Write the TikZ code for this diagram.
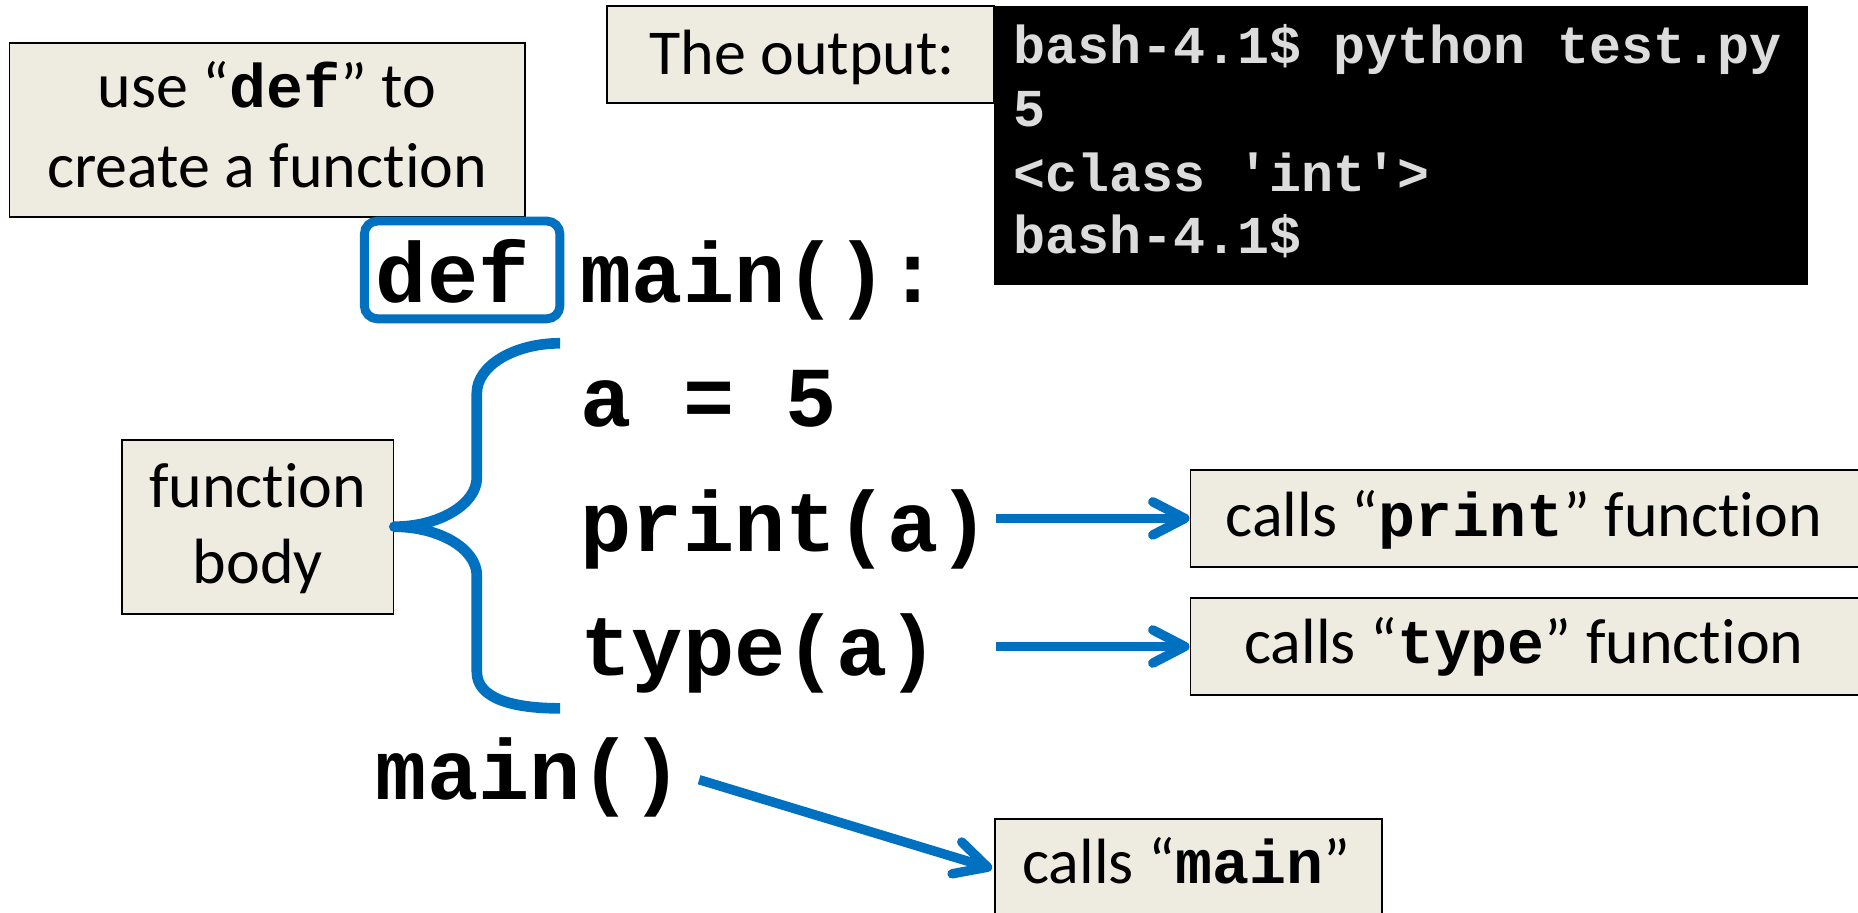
\documentclass[tikz,border=0pt]{standalone}
\usepackage{fontspec}
\setmainfont{Carlito}[Ligatures=NoCommon]
\setmonofont{Liberation Mono}
\usetikzlibrary{arrows.meta}
\definecolor{boxfill}{HTML}{EEECE1}
\definecolor{pblue}{HTML}{0070C0}
\definecolor{termtext}{HTML}{DCDCDC}
\newcommand{\kwd}[1]{{\fontsize{52}{52}\selectfont\ttfamily\bfseries #1}}
\begin{document}
\begin{tikzpicture}[x=1pt,y=-1pt,
  lbl/.style={inner sep=0pt, anchor=base, font=\fontsize{54}{66}\selectfont},
  code/.style={inner sep=0pt, anchor=base west, font=\fontsize{72}{72}\selectfont\ttfamily\bfseries},
  term/.style={inner sep=0pt, anchor=base west, text=termtext, font=\fontsize{45}{45}\selectfont\ttfamily\bfseries},
  notebox/.style={draw=black, line width=1.5pt, fill=boxfill, inner sep=0pt},
  callarrow/.style={draw=pblue, line width=8pt, -{Straight Barb[length=27pt,width=28pt,round]}},
]
\useasboundingbox (0,0) rectangle (1568,770);
\fill[white] (0,0) rectangle (1568,770);

% "use def" note
\node[notebox, minimum width=435pt, minimum height=147pt] (usedef) at (225.5,109.5) {};
\node[lbl] (usedefA) at (225.5,91) {use “\kwd{def}” to};
\node[lbl] (usedefB) at (225.5,158) {create a function};

% output label
\node[notebox, minimum width=327pt, minimum height=82pt] (outbox) at (675.5,46) {};
\node[lbl] (outtext) at (677,63) {The output:};

% terminal
\node[fill=black, inner sep=0pt, minimum width=687pt, minimum height=235.5pt] (term) at (1182.5,122.75) {};
\node[term] (t1) at (855,53.5) {bash-4.1\$ python test.py};
\node[term] (t2) at (855,107) {5};
\node[term] (t3) at (855,161.5) {<class 'int'>};
\node[term] (t4) at (855,214) {bash-4.1\$};

% code
\node[draw=pblue, line width=7.5pt, rounded corners=11pt, inner sep=0pt, minimum width=165pt, minimum height=82.5pt] (defbox) at (390,227.8) {};
\node[code] (def) at (317,255) {def};
\node[code] (mainhead) at (489.8,255) {main():};
\node[code] (assign) at (489.8,360) {a = 5};
\node[code] (print) at (489.8,465) {print(a)};
\node[code] (type) at (489.8,570) {type(a)};
\node[code] (maincall) at (317,675) {main()};

% function body note
\node[notebox, minimum width=229pt, minimum height=147pt] (fbody) at (217.5,444.5) {};
\node[lbl] (fbodyA) at (217.5,428.4) {function};
\node[lbl] (fbodyB) at (217.5,492.8) {body};

% brace
\draw[pblue, line width=9pt, line join=round]
  (472.7,289.7) .. controls (434,289.7) and (402.4,308.6) .. (402.4,331.7)
  -- (402.4,403) .. controls (402.4,425.5) and (370.5,444.5) .. (fbody.east)
  .. controls (370.5,444.5) and (402.4,463) .. (402.4,485.8)
  -- (402.4,567) .. controls (402.4,590) and (434,597.8) .. (472.7,597.8);

% call notes
\node[notebox, minimum width=580pt, minimum height=81.7pt] (cprint) at (1294.6,437.5) {};
\node[lbl] (cprinttext) at (1286,453) {calls “\kwd{print}” function};
\node[notebox, minimum width=580pt, minimum height=82.2pt] (ctype) at (1294.6,545.6) {};
\node[lbl] (ctypetext) at (1286,560) {calls “\kwd{type}” function};
\node[notebox, minimum width=326pt, minimum height=84pt] (cmain) at (1003,733) {};
\node[lbl] (cmaintext) at (1001,746) {calls “\kwd{main}”};

% arrows
\draw[callarrow, shorten <=5pt] (print.east |- cprint.west) -- (cprint.west);
\draw[callarrow, shorten <=5pt] (print.east |- ctype.west) -- (ctype.west);
\coordinate (mstart) at (590,658);
\draw[callarrow] (mstart) -- ([xshift=-2pt]cmain.west);
\end{tikzpicture}
\end{document}
